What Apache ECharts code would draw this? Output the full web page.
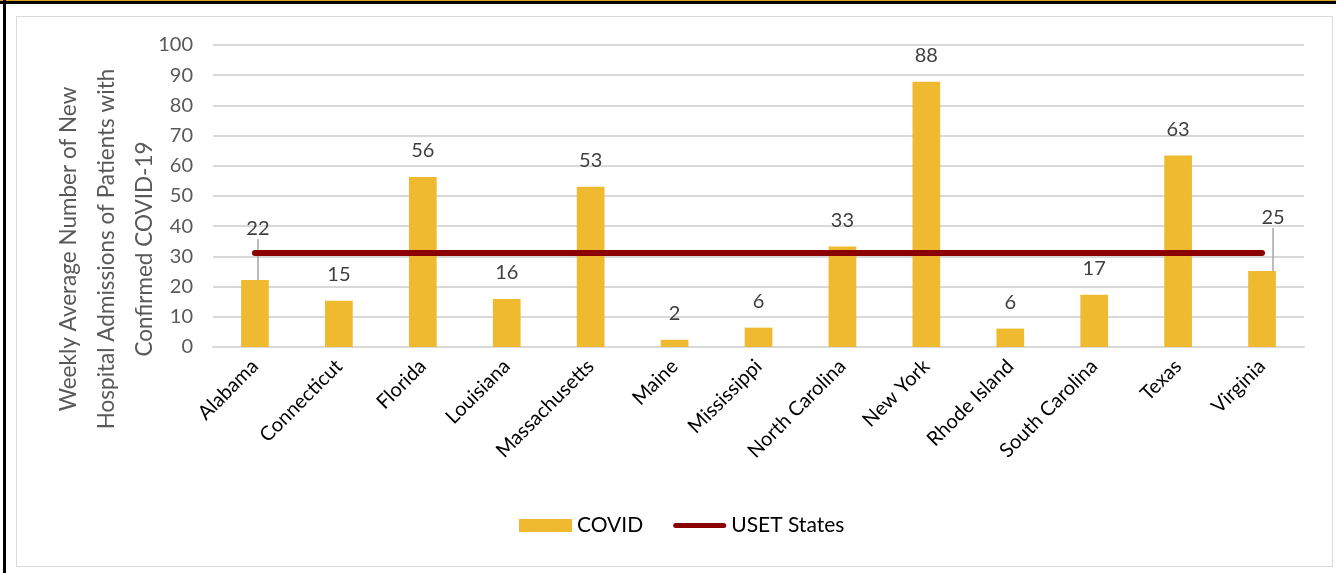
<!DOCTYPE html>
<html>
<head>
<meta charset="utf-8">
<script src="https://cdn.jsdelivr.net/npm/echarts@6/dist/echarts.min.js"></script>
<style>
  html, body { margin: 0; padding: 0; background: #fff; }
  #wrap { position: relative; width: 1336px; height: 573px; overflow: hidden; }
  #chart { position: absolute; left: 0; top: 0; width: 1336px; height: 573px; }
  .frame-top-gold { position: absolute; left: 0; top: 0; width: 1336px; height: 1px; background: #d9a21b; }
  .frame-top { position: absolute; left: 0; top: 1px; width: 1336px; height: 3px; background: #000; }
  .frame-left { position: absolute; left: 3px; top: 0; width: 3px; height: 573px; background: #000; }
  .inner { position: absolute; left: 16px; top: 16px; width: 1315px; height: 549px; border: 1px solid #d9d9d9; box-sizing: content-box; }
</style>
</head>
<body>
<div id="wrap">
  <div class="inner"></div>
  <div id="chart"></div>
  <div class="frame-top-gold"></div>
  <div class="frame-top"></div>
  <div class="frame-left"></div>
</div>
<script>
const states = ['Alabama', 'Connecticut', 'Florida', 'Louisiana', 'Massachusetts', 'Maine', 'Mississippi',
  'North Carolina', 'New York', 'Rhode Island', 'South Carolina', 'Texas', 'Virginia'];
const covidValues = [22.2, 15.3, 56.3, 15.9, 53.1, 2.4, 6.4, 33.3, 87.8, 6.1, 17.3, 63.4, 25.2];
const usetValue = 31.1;
const usetValues = states.map(() => usetValue);
const yTicks = [0, 10, 20, 30, 40, 50, 60, 70, 80, 90, 100];

const FONT = 'Lato, "Open Sans", sans-serif';

// two labels are pulled away from their bars with a leader line
const callouts = { 0: { dx: 3, dy: -25 }, 12: { dx: 11, dy: -27 } };

const covidData = covidValues.map((v, i) => ({
  value: v,
  labelLine: { show: !!callouts[i] }
}));

const chart = echarts.init(document.getElementById('chart'), null, { renderer: 'canvas' });

const option = {
  animation: false,
  textStyle: { fontFamily: FONT },
  grid: { left: 213, right: 32, top: 45, bottom: 226 },
  legend: {
    bottom: 32,
    left: 514,
    itemGap: 30,
    textStyle: { fontSize: 21, color: '#000', fontFamily: FONT },
    data: [
      { name: 'COVID', icon: 'rect' },
      { name: 'USET States', icon: 'path://M2.5,0 L50.5,0 A2.5,2.5 0 0 1 50.5,5 L2.5,5 A2.5,2.5 0 0 1 2.5,0 Z' }
    ],
    itemWidth: 53,
    itemHeight: 13
  },
  graphic: [{
    type: 'text',
    x: 107,
    y: 249,
    rotation: Math.PI / 2,
    style: {
      text: 'Weekly Average Number of New\nHospital Admissions of Patients with\nConfirmed COVID-19',
      font: '22.5px ' + FONT,
      fill: '#595959',
      align: 'center',
      verticalAlign: 'middle',
      lineHeight: 38
    }
  }],
  xAxis: {
    type: 'category',
    data: states,
    axisLine: { lineStyle: { color: '#d9d9d9', width: 2 } },
    axisTick: { show: false },
    axisLabel: { rotate: 45, fontSize: 20, color: '#000', margin: 16, fontFamily: FONT }
  },
  yAxis: {
    type: 'value',
    min: yTicks[0],
    max: yTicks[yTicks.length - 1],
    interval: 10,
    axisLine: { show: false },
    axisTick: { show: false },
    splitLine: { lineStyle: { color: '#d9d9d9', width: 2 } },
    axisLabel: { fontSize: 20, color: '#595959', margin: 20, fontFamily: FONT }
  },
  series: [
    {
      name: 'COVID',
      type: 'bar',
      barWidth: '33%',
      itemStyle: { color: '#efb930' },
      data: covidData,
      label: {
        show: true,
        position: 'top',
        distance: 16,
        fontSize: 20,
        color: '#404040',
        fontFamily: FONT,
        formatter: p => Math.round(p.value)
      },
      labelLine: { show: false, lineStyle: { color: '#a6a6a6', width: 1.5 } },
      labelLayout: p => callouts[p.dataIndex] || {}
    },
    {
      name: 'USET States',
      type: 'line',
      data: usetValues,
      symbol: 'none',
      itemStyle: { color: '#8b0000' },
      lineStyle: { color: '#8b0000', width: 6, cap: 'round' },
      z: 3
    }
  ]
};

chart.setOption(option);
</script>
</body>
</html>
